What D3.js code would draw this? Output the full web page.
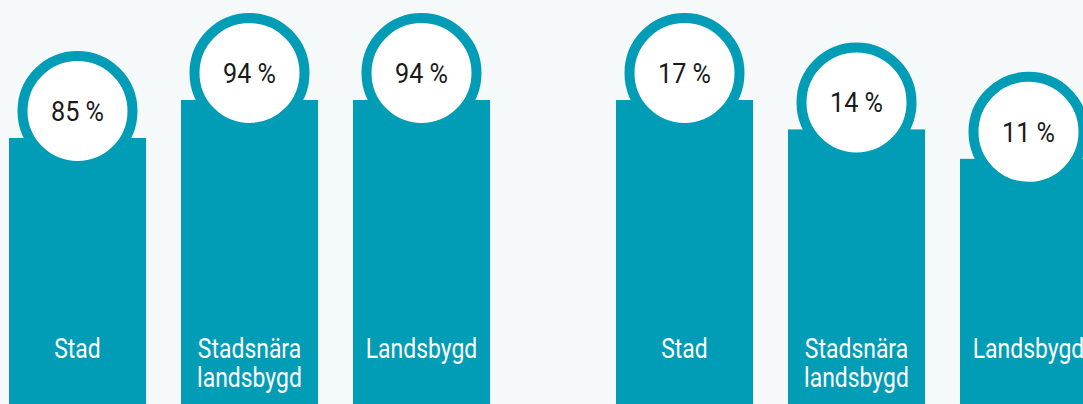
<!DOCTYPE html>
<html>
<head>
<meta charset="utf-8">
<script src="https://cdn.jsdelivr.net/npm/d3@7"></script>
<style>
  html, body { margin: 0; padding: 0; background: #f5f9fa; overflow: hidden; }
  svg { display: block; }
  text { font-family: Roboto, "DejaVu Sans Condensed", sans-serif; font-weight: 400; }
</style>
</head>
<body>
<div id="chart"></div>
<script>
// categories and values, one array per group
const categories = ['Stad', 'Stadsnära landsbygd', 'Landsbygd'];
const groups = ['g1', 'g2'];
const valuesG1 = [85, 94, 94];
const valuesG2 = [17, 14, 11];

const width = 1083;
const height = 404;
const teal = '#019cb6';
// the original font is narrower than anything installed
const squeezeLabel = 0.85;
const squeezeValue = 0.9;

const svg = d3.select('#chart').append('svg')
  .attr('width', width)
  .attr('height', height);

svg.append('rect')
  .attr('width', width)
  .attr('height', height)
  .attr('fill', '#f5f9fa');

const step = 172;
const barW = 137;
const pad = 1 - barW / step;

const xGroup = d3.scaleBand().domain(groups).range([-8.5, 1205.5]);
const xCat = d3.scaleBand()
  .domain(categories)
  .range([0, categories.length * step])
  .paddingInner(pad)
  .paddingOuter(pad / 2);

// each group has its own height scale in the original graphic
const yScales = {
  g1: d3.scaleLinear().domain([22, 94]).range([height, 100]),
  g2: d3.scaleLinear().domain([-14, 17]).range([height, 100])
};

const rows = [];
categories.forEach((c, i) => rows.push({ group: 'g1', cat: c, value: valuesG1[i] }));
categories.forEach((c, i) => rows.push({ group: 'g2', cat: c, value: valuesG2[i] }));

const mid = xCat.bandwidth() / 2;

const item = svg.selectAll('g.item')
  .data(rows)
  .enter().append('g')
  .attr('class', 'item')
  .attr('transform', d => 'translate(' + (xGroup(d.group) + xCat(d.cat)) + ',0)');

item.append('rect')
  .attr('x', 0)
  .attr('y', d => yScales[d.group](d.value))
  .attr('width', xCat.bandwidth())
  .attr('height', d => height - yScales[d.group](d.value))
  .attr('fill', teal);

item.append('circle')
  .attr('cx', mid)
  .attr('cy', d => yScales[d.group](d.value) - 27)
  .attr('r', 55)
  .attr('fill', '#fff')
  .attr('stroke', teal)
  .attr('stroke-width', 10);

item.append('g')
  .attr('transform', d => 'translate(' + mid + ',' + (yScales[d.group](d.value) - 17) + ') scale(' + squeezeValue + ',1)')
  .append('text')
  .attr('text-anchor', 'middle')
  .attr('font-size', 28)
  .attr('fill', '#1a1a1a')
  .text(d => d.value + ' %');

const label = item.append('g')
  .attr('transform', 'translate(' + mid + ',358) scale(' + squeezeLabel + ',1)')
  .append('text')
  .attr('text-anchor', 'middle')
  .attr('font-size', 27)
  .attr('fill', '#fff');

label.selectAll('tspan')
  .data(d => d.cat.split(' '))
  .enter().append('tspan')
  .attr('x', 0)
  .attr('dy', (d, i) => i === 0 ? 0 : 29)
  .text(d => d);
</script>
</body>
</html>
